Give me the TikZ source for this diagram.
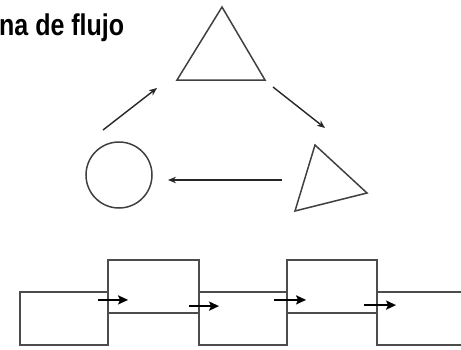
\documentclass[tikz,border=0pt]{standalone}
\usepackage{fontspec}
\setmainfont{Liberation Sans}
\usetikzlibrary{arrows.meta}
\begin{document}
\begin{tikzpicture}[x=1pt,y=-1pt,
  shapeline/.style={draw=black!75,line width=1.5pt},
  stepbox/.style={draw=black!70,line width=2.2pt,minimum height=53pt,inner sep=0pt},
  flow/.style={-{Stealth[length=8pt,width=6.5pt]},line width=1.4pt,black!85},
  push/.style={-{Stealth[length=10pt,width=9pt,inset=2pt]},line width=2.6pt,black}]
  \clip (0,0) rectangle (461,349);
  \node[anchor=base west,font=\fontsize{25}{30}\selectfont\bfseries,inner sep=0pt] (title) at (-1,35) {\scalebox{1}[1.2]{na de flujo}};

  % cycle of shapes
  \coordinate (tA) at (222,7); \coordinate (tB) at (265,80); \coordinate (tC) at (177,80);
  \draw[shapeline,line join=miter] (tA) -- (tB) -- (tC) -- cycle;
  \coordinate (sA) at (315,145); \coordinate (sB) at (367,193); \coordinate (sC) at (295,211);
  \draw[shapeline,line join=miter] (sA) -- (sB) -- (sC) -- cycle;
  \node[shapeline,circle,minimum size=66pt,inner sep=0pt] (circ) at (119,175) {};

  \coordinate (a1) at (103,130); \coordinate (a2) at (157,88);
  \coordinate (b1) at (273,87);  \coordinate (b2) at (325,128);
  \coordinate (c1) at (282,180); \coordinate (c2) at (168,180);
  \draw[flow] (a1) -- (a2);
  \draw[flow] (b1) -- (b2);
  \draw[flow] (c1) -- (c2);

  % staggered boxes
  \node[stepbox,minimum width=88pt] (box1) at (64,318.5) {};
  \node[stepbox,minimum width=91pt] (box2) at (153.5,286.5) {};
  \node[stepbox,minimum width=88pt] (box3) at (243,318.5) {};
  \node[stepbox,minimum width=90pt] (box4) at (332,286.5) {};
  \node[stepbox,minimum width=90pt] (box5) at (422,318.5) {};

  \draw[push] ([shift={(-11,9)}]box1.north east) -- ([shift={(19,9)}]box1.north east);
  \draw[push] ([shift={(-11,-8)}]box2.south east) -- ([shift={(19,-8)}]box2.south east);
  \draw[push] ([shift={(-14,9)}]box3.north east) -- ([shift={(18,9)}]box3.north east);
  \draw[push] ([shift={(-14,-9)}]box4.south east) -- ([shift={(18,-9)}]box4.south east);
\end{tikzpicture}
\end{document}
